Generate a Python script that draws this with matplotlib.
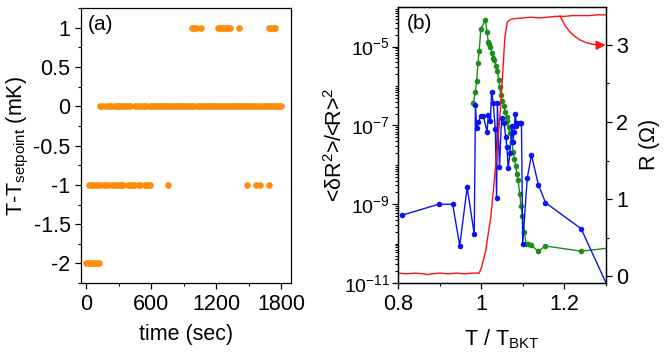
import numpy as np
import matplotlib
matplotlib.use("Agg")
import matplotlib.pyplot as plt
from matplotlib.ticker import FixedLocator, NullFormatter, MultipleLocator

plt.rcParams['font.family'] = ['Liberation Sans', 'DejaVu Sans']
plt.rcParams['mathtext.default'] = 'regular'

# ---- panel (a): temperature deviation vs time (sec) ----
t_lvl_m2 = [0, 20, 40, 60, 80, 100, 120]
t_lvl_m1 = [20, 40, 60, 90, 110, 130, 160, 180, 200, 240, 260, 280, 300, 320,
            340, 380, 400, 420, 440, 480, 500, 540, 560, 580, 590, 750,
            1485, 1570, 1605, 1685]
t_lvl_0 = [125, 145, 185, 205, 225, 260, 280, 300, 320, 340, 360, 380, 400,
           450, 465, 500, 520, 540, 555, 585, 605, 625, 645, 665, 685, 705,
           725, 745, 765, 785, 805, 825, 845, 865, 885, 905, 925, 945, 965,
           985, 1020, 1040, 1060, 1080, 1100, 1120, 1140, 1160, 1180, 1200,
           1220, 1240, 1265, 1285, 1305, 1325, 1345, 1365, 1385, 1405, 1425,
           1445, 1465, 1485, 1505, 1525, 1545, 1565, 1600, 1620, 1640, 1660,
           1680, 1700, 1720, 1740, 1760, 1780, 1800]
t_lvl_1 = [975, 995, 1015, 1055, 1215, 1235, 1255, 1275, 1295, 1310, 1325,
           1415, 1690, 1710, 1730, 1745]

# ---- panel (b): noise (left, log) and resistance (right) vs T/T_BKT ----
green_T = [0.981, 0.986, 0.989, 0.992, 0.995, 0.999, 1.010, 1.014, 1.017,
           1.019, 1.022, 1.026, 1.029, 1.031, 1.036, 1.039, 1.042, 1.045,
           1.047, 1.051, 1.055, 1.058, 1.061, 1.063, 1.066, 1.070, 1.074,
           1.077, 1.080, 1.083, 1.086, 1.089, 1.093, 1.096, 1.099, 1.104,
           1.108, 1.113, 1.120, 1.137, 1.155, 1.241, 1.36]
green_log = [-6.42, -6.14, -5.87, -5.42, -5.10, -4.55, -4.33, -4.64, -4.88,
             -4.93, -5.00, -5.16, -5.29, -5.35, -5.50, -5.63, -5.84, -6.03,
             -6.22, -6.39, -6.52, -6.65, -6.78, -6.90, -7.05, -7.20, -7.41,
             -7.67, -7.85, -8.03, -8.23, -8.39, -8.75, -9.05, -9.30, -9.70,
             -10.00, -10.02, -10.03, -10.19, -10.06, -10.19, -10.05]

blue_T = [0.808, 0.897, 0.931, 0.948, 0.966, 0.983, 0.986, 0.989, 0.993,
          0.999, 1.005, 1.014, 1.017, 1.022, 1.025, 1.029, 1.034, 1.037,
          1.039, 1.044, 1.049, 1.055, 1.059, 1.062, 1.065, 1.069, 1.074,
          1.077, 1.079, 1.082, 1.085, 1.087, 1.093, 1.097, 1.100, 1.111,
          1.121, 1.138, 1.155, 1.241, 1.31]
blue_log = [-9.28, -9.00, -9.00, -10.05, -8.57, -9.76, -6.48, -7.07, -6.92,
            -6.76, -6.77, -7.16, -6.73, -6.88, -6.14, -6.44, -7.10, -8.85,
            -6.44, -8.06, -6.80, -6.94, -7.29, -7.55, -8.09, -7.71, -7.01,
            -7.41, -7.16, -6.71, -7.01, -6.93, -6.93, -6.93, -10.00, -8.34,
            -7.75, -8.51, -8.96, -9.62, -11.2]

red_T = [0.80, 0.82, 0.84, 0.86, 0.87, 0.88, 0.90, 0.92, 0.94, 0.96, 0.98,
         0.995, 1.001, 1.011, 1.023, 1.031, 1.038, 1.046, 1.051, 1.057,
         1.063, 1.071, 1.08, 1.10, 1.12, 1.14, 1.16, 1.18, 1.20, 1.22, 1.24,
         1.26, 1.28, 1.30]
red_R = [0.04, 0.03, 0.04, 0.03, 0.02, 0.03, 0.04, 0.03, 0.04, 0.03, 0.04,
         0.04, 0.12, 0.34, 0.77, 1.21, 1.64, 2.14, 2.57, 3.10, 3.30, 3.33,
         3.34, 3.35, 3.36, 3.35, 3.36, 3.37, 3.37, 3.38, 3.38, 3.38, 3.39,
         3.39]

FS = 15.5

fig = plt.figure(figsize=(6.64, 3.57), dpi=100)
ax_a = fig.add_axes([0.122, 0.207, 0.316, 0.770])
ax_b = fig.add_axes([0.600, 0.207, 0.312, 0.773])

orange = '#ff8c0a'
for tt, lv in [(t_lvl_m2, -2), (t_lvl_m1, -1), (t_lvl_0, 0), (t_lvl_1, 1)]:
    ax_a.plot(tt, [lv] * len(tt), 'o', color=orange, ms=4.8, mew=0)

ax_a.set_xlim(-50, 1890)
ax_a.set_ylim(-2.25, 1.25)
ax_a.set_xticks([0, 600, 1200, 1800])
ax_a.xaxis.set_minor_locator(MultipleLocator(300))
ax_a.set_yticks([-2, -1.5, -1, -0.5, 0, 0.5, 1])
ax_a.set_yticklabels(['-2', '-1.5', '-1', '-0.5', '0', '0.5', '1'])
ax_a.yaxis.set_minor_locator(MultipleLocator(0.25))
ax_a.set_xlabel('time (sec)', fontsize=FS, labelpad=7)
ax_a.set_ylabel(r'T-T$_{setpoint}$ (mK)', fontsize=FS)
ax_a.yaxis.set_label_coords(-0.24, 0.5)
ax_a.text(0.03, 0.975, '(a)', transform=ax_a.transAxes, va='top', ha='left',
          fontsize=15)

# panel b
ax_b.plot(green_T, 10.0 ** np.array(green_log), '-o', color='#1c8c1c',
          ms=4.0, lw=1, mew=0)
ax_b.plot(blue_T, 10.0 ** np.array(blue_log), '-o', color='#0a14f0',
          ms=4.0, lw=1, mew=0)
ax_b.set_yscale('log')
ax_b.set_xlim(0.8, 1.3)
ax_b.set_ylim(1e-11, 1e-4)
ax_b.yaxis.set_major_locator(FixedLocator([1e-11, 1e-9, 1e-7, 1e-5]))
ax_b.set_yticklabels(['$10^{-11}$', '$10^{-9}$', '$10^{-7}$', '$10^{-5}$'])
minors = []
for e in range(-11, -4):
    for s in range(1, 10):
        if s == 1 and e % 2 != 0:
            continue
        minors.append(s * 10.0 ** e)
ax_b.yaxis.set_minor_locator(FixedLocator(minors))
ax_b.yaxis.set_minor_formatter(NullFormatter())
ax_b.set_xticks([0.8, 1.0, 1.2])
ax_b.set_xticklabels(['0.8', '1', '1.2'])
ax_b.xaxis.set_minor_locator(MultipleLocator(0.1))
ax_b.set_xlabel(r'T / T$_{BKT}$', fontsize=FS, labelpad=9)
ax_b.set_ylabel(r'<$\delta$R$^2$>/<R>$^2$', fontsize=FS)
ax_b.yaxis.set_label_coords(-0.25, 0.5)
ax_b.text(0.04, 0.975, '(b)', transform=ax_b.transAxes, va='top', ha='left',
          fontsize=15)

ax_r = ax_b.twinx()
ax_r.plot(red_T, red_R, '-', color='#ff1010', lw=1)
ax_r.set_ylim(-0.09, 3.49)
ax_r.set_yticks([0, 1, 2, 3])
ax_r.yaxis.set_minor_locator(MultipleLocator(0.5))
ax_r.set_ylabel(r'R ($\Omega$)', fontsize=FS)
ax_r.yaxis.set_label_coords(1.15, 0.5)
ax_r.annotate('', xy=(1.30, 3.0), xytext=(1.19, 3.38),
              arrowprops=dict(arrowstyle='-|>', color='#ff1010', lw=1,
                              connectionstyle='arc3,rad=0.35',
                              shrinkA=0, shrinkB=0, mutation_scale=14),
              annotation_clip=False)

for ax in (ax_a, ax_b, ax_r):
    ax.tick_params(which='major', direction='out', length=4, width=0.9,
                   labelsize=FS)
    ax.tick_params(which='minor', direction='out', length=2.2, width=0.8)
    for sp in ax.spines.values():
        sp.set_linewidth(0.9)
ax_b.tick_params(axis='y', which='major', labelsize=14, pad=2)

fig.savefig('out.png', dpi=100)
